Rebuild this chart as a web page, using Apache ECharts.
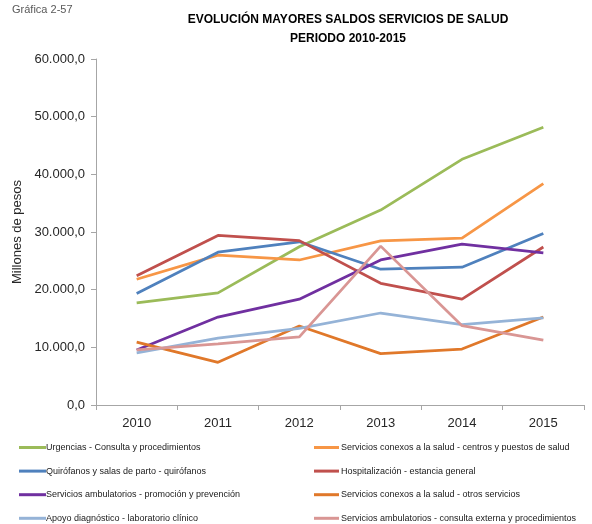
<!DOCTYPE html>
<html>
<head>
<meta charset="utf-8">
<style>
  html, body { margin: 0; padding: 0; background: #fff; }
  #chart { width: 592px; height: 524px; }
</style>
<script src="https://cdn.jsdelivr.net/npm/echarts@6/dist/echarts.min.js"></script>
</head>
<body>
<div id="chart"></div>
<script>
// Años del periodo
var years = ['2010', '2011', '2012', '2013', '2014', '2015'];

// Saldos por servicio (millones de pesos)
var urgencias       = [17700, 19450, 27450, 33800, 42600, 48150];
var centrosPuestos  = [21800, 26000, 25150, 28450, 28950, 38400];
var quirofanos      = [19350, 26500, 28300, 23550, 23900, 29750];
var hospitalizacion = [22400, 29400, 28500, 21100, 18350, 27400];
var promocion       = [9550, 15250, 18350, 25150, 27900, 26400];
var otrosServicios  = [10900, 7400, 13700, 8900, 9700, 15250];
var laboratorio     = [9050, 11600, 13300, 15950, 13950, 15100];
var consultaExterna = [9550, 10600, 11800, 27550, 13750, 11250];

// Marcas del eje Y
var yTicks = [0, 10000, 20000, 30000, 40000, 50000, 60000];

var names = {
  urg: 'Urgencias - Consulta y procedimientos',
  cen: 'Servicios conexos a la salud - centros y puestos de salud',
  qui: 'Quirófanos y salas de parto - quirófanos',
  hos: 'Hospitalización - estancia general',
  pro: 'Servicios ambulatorios - promoción y prevención',
  otr: 'Servicios conexos a la salud - otros servicios',
  lab: 'Apoyo diagnóstico - laboratorio clínico',
  con: 'Servicios ambulatorios - consulta externa y procedimientos'
};

function fmtMiles(v) {
  var s = String(Math.round(v));
  var out = '';
  while (s.length > 3) {
    out = '.' + s.slice(-3) + out;
    s = s.slice(0, -3);
  }
  return s + out + ',0';
}

function lineSeries(name, data, color) {
  return {
    name: name,
    type: 'line',
    data: data,
    showSymbol: false,
    symbol: 'none',
    lineStyle: { width: 2.75, color: color },
    itemStyle: { color: color },
    emphasis: { disabled: true },
    animation: false
  };
}

var font = 'Liberation Sans, Arial, sans-serif';

// Una leyenda por entrada: dos columnas de cuatro filas
function legendItem(name, col, row) {
  return {
    left: col === 0 ? 19 : 314,
    top: 441.5 + row * 23.6,
    icon: 'rect',
    itemWidth: col === 0 ? 27 : 25,
    itemHeight: 3,
    selectedMode: false,
    padding: 0,
    data: [name],
    textStyle: {
      fontFamily: font, fontSize: 9, color: '#202020', lineHeight: 12,
      padding: [0, 0, 0, col === 0 ? -5 : -3]
    }
  };
}

var chart = echarts.init(document.getElementById('chart'), null, { renderer: 'canvas' });

chart.setOption({
  backgroundColor: '#ffffff',
  animation: false,
  title: [
    {
      text: 'Gráfica 2-57',
      left: 7,
      top: -1,
      textStyle: { fontFamily: font, fontSize: 11, fontWeight: 'normal', color: '#595959' }
    },
    {
      text: 'EVOLUCIÓN MAYORES SALDOS SERVICIOS DE SALUD\nPERIODO 2010-2015',
      left: 343,
      top: 5,
      textAlign: 'center',
      textStyle: { fontFamily: font, fontSize: 12, fontWeight: 'bold', color: '#000', lineHeight: 19 }
    }
  ],
  legend: [
    legendItem(names.urg, 0, 0),
    legendItem(names.cen, 1, 0),
    legendItem(names.qui, 0, 1),
    legendItem(names.hos, 1, 1),
    legendItem(names.pro, 0, 2),
    legendItem(names.otr, 1, 2),
    legendItem(names.lab, 0, 3),
    legendItem(names.con, 1, 3)
  ],
  grid: { left: 96, right: 8, top: 59, bottom: 119, containLabel: false },
  xAxis: {
    type: 'category',
    data: years,
    boundaryGap: true,
    axisLine: { show: true, lineStyle: { color: '#a6a6a6', width: 1 } },
    axisTick: { show: true, length: 5, lineStyle: { color: '#a6a6a6' } },
    axisLabel: { fontFamily: font, fontSize: 13, color: '#262626', margin: 12 },
    splitLine: { show: false }
  },
  yAxis: {
    type: 'value',
    min: yTicks[0],
    max: yTicks[yTicks.length - 1],
    interval: yTicks[1] - yTicks[0],
    name: 'Millones de pesos',
    nameLocation: 'middle',
    nameGap: 65,
    nameTextStyle: { fontFamily: font, fontSize: 13, color: '#262626' },
    axisLine: { show: true, lineStyle: { color: '#a6a6a6', width: 1 } },
    axisTick: { show: true, length: 5, lineStyle: { color: '#a6a6a6' } },
    axisLabel: { fontFamily: font, fontSize: 13, color: '#262626', margin: 11, formatter: fmtMiles },
    splitLine: { show: false }
  },
  series: [
    lineSeries(names.urg, urgencias, '#9bbb59'),
    lineSeries(names.cen, centrosPuestos, '#f79646'),
    lineSeries(names.qui, quirofanos, '#4f81bd'),
    lineSeries(names.hos, hospitalizacion, '#c0504d'),
    lineSeries(names.pro, promocion, '#7030a0'),
    lineSeries(names.otr, otrosServicios, '#e0782a'),
    lineSeries(names.lab, laboratorio, '#95b3d7'),
    lineSeries(names.con, consultaExterna, '#d99694')
  ]
});
</script>
</body>
</html>
